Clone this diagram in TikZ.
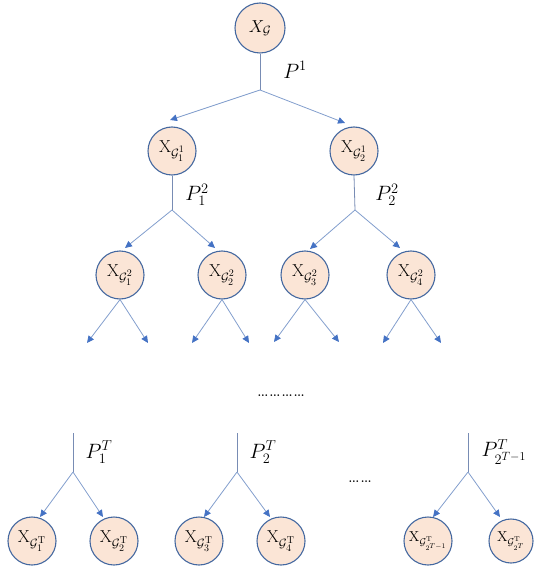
\documentclass[tikz,border=0pt]{standalone}
\usepackage{amsmath}
\usetikzlibrary{arrows.meta}
\definecolor{nodefill}{HTML}{FBE5D6}
\definecolor{nodeline}{RGB}{68,104,160}
\definecolor{connline}{RGB}{130,158,205}
\definecolor{stemline}{RGB}{120,140,180}
\definecolor{tipblue}{RGB}{68,114,196}
\tikzset{
  gnode/.style={circle,draw=nodeline,fill=nodefill,line width=1.1pt,minimum size=48pt,inner sep=0pt,font=\LARGE},
  smallnode/.style={gnode,font=\Large},
  stem/.style={draw=stemline,line width=0.8pt},
  arr/.style={draw=connline,line width=0.8pt,-{Triangle[length=7pt,width=6.5pt,color=tipblue]}},
  plabel/.style={font=\huge,inner sep=0pt},
  dotstext/.style={font=\huge,inner sep=0pt}
}
\begin{document}
\begin{tikzpicture}[x=1pt,y=-1pt]
\useasboundingbox (0,0) rectangle (535,569);
% top
\node[gnode,minimum size=50pt] (G) at (260,28) {$X_{\mathcal{G}}$};
\coordinate (j0) at (260,90);
\node[plabel] (p1) at (295,70) {$P^1$};
\node[gnode] (A1) at (172,151) {$\mathrm{X}_{\mathcal{G}_1^1}$};
\node[gnode] (A2) at (354,151) {$\mathrm{X}_{\mathcal{G}_2^1}$};
\coordinate (a1t) at (170,120);
\coordinate (a2t) at (345,123);
\draw[stem] (G.south) -- (j0);
\draw[arr] (j0) -- (a1t);
\draw[arr] (j0) -- (a2t);
% level 2
\coordinate (j1) at (172,210);
\coordinate (j2) at (355,210);
\node[plabel] (p12) at (197,195) {$P_1^2$};
\node[plabel] (p22) at (387,195) {$P_2^2$};
\draw[stem] (A1.south) -- (j1);
\draw[stem] (A2.south) -- (j2);
\node[gnode] (B1) at (120,275) {$\mathrm{X}_{\mathcal{G}_1^2}$};
\node[gnode] (B2) at (222,275) {$\mathrm{X}_{\mathcal{G}_2^2}$};
\node[gnode] (B3) at (305,275) {$\mathrm{X}_{\mathcal{G}_3^2}$};
\node[gnode] (B4) at (411,275) {$\mathrm{X}_{\mathcal{G}_4^2}$};
\coordinate (b1t) at (125,248);
\coordinate (b2t) at (215,248);
\coordinate (b3t) at (310,249);
\coordinate (b4t) at (400,248);
\draw[arr] (j1) -- (b1t);
\draw[arr] (j1) -- (b2t);
\draw[arr] (j2) -- (b3t);
\draw[arr] (j2) -- (b4t);
% free arrows below level 2
\coordinate (e1) at (87,343);
\coordinate (e2) at (148,343);
\coordinate (e3) at (192,343);
\coordinate (e4) at (249,343);
\coordinate (e5) at (274,342);
\coordinate (e6) at (339,342);
\coordinate (e7) at (383,343);
\coordinate (e8) at (441,343);
\draw[arr] (B1.south) -- (e1);
\draw[arr] (B1.south) -- (e2);
\draw[arr] (B2.south) -- (e3);
\draw[arr] (B2.south) -- (e4);
\draw[arr] (B3.south) -- (e5);
\draw[arr] (B3.south) -- (e6);
\draw[arr] (B4.south) -- (e7);
\draw[arr] (B4.south) -- (e8);
% dots
\node[dotstext] (dots1) at (281,396) {\ldots\ldots\ldots\ldots};
\node[dotstext] (dots2) at (360,482) {\ldots\ldots};
% bottom groups
\coordinate (s1) at (73,433);
\coordinate (k1) at (73,472);
\coordinate (s2) at (237,433);
\coordinate (k2) at (237,472);
\coordinate (s3) at (468,433);
\coordinate (k3) at (468,472);
\draw[stem] (s1) -- (k1);
\draw[stem] (s2) -- (k2);
\draw[stem] (s3) -- (k3);
\node[plabel] (pT1) at (99,452) {$P_1^T$};
\node[plabel] (pT2) at (263,452) {$P_2^T$};
\node[plabel] (pT3) at (504,452) {$P_{2^{T-1}}^T$};
\node[gnode] (C1) at (32,541) {$\mathrm{X}_{\mathcal{G}_1^{\mathrm{T}}}$};
\node[gnode] (C2) at (114,541) {$\mathrm{X}_{\mathcal{G}_2^{\mathrm{T}}}$};
\node[gnode] (C3) at (199,541) {$\mathrm{X}_{\mathcal{G}_3^{\mathrm{T}}}$};
\node[gnode] (C4) at (281,541) {$\mathrm{X}_{\mathcal{G}_4^{\mathrm{T}}}$};
\node[smallnode] (C5) at (428,541) {$\mathrm{X}_{\mathcal{G}_{2^{T-1}}^{\mathrm{T}}}$};
\node[smallnode,minimum size=44pt] (C6) at (511,541) {$\mathrm{X}_{\mathcal{G}_{2^T}^{\mathrm{T}}}$};
\coordinate (c1t) at (40,517);
\coordinate (c2t) at (103,517);
\coordinate (c3t) at (204,517);
\coordinate (c4t) at (270,517);
\coordinate (c5t) at (433,517);
\coordinate (c6t) at (500,517);
\draw[arr] (k1) -- (c1t);
\draw[arr] (k1) -- (c2t);
\draw[arr] (k2) -- (c3t);
\draw[arr] (k2) -- (c4t);
\draw[arr] (k3) -- (c5t);
\draw[arr] (k3) -- (c6t);
\end{tikzpicture}
\end{document}
